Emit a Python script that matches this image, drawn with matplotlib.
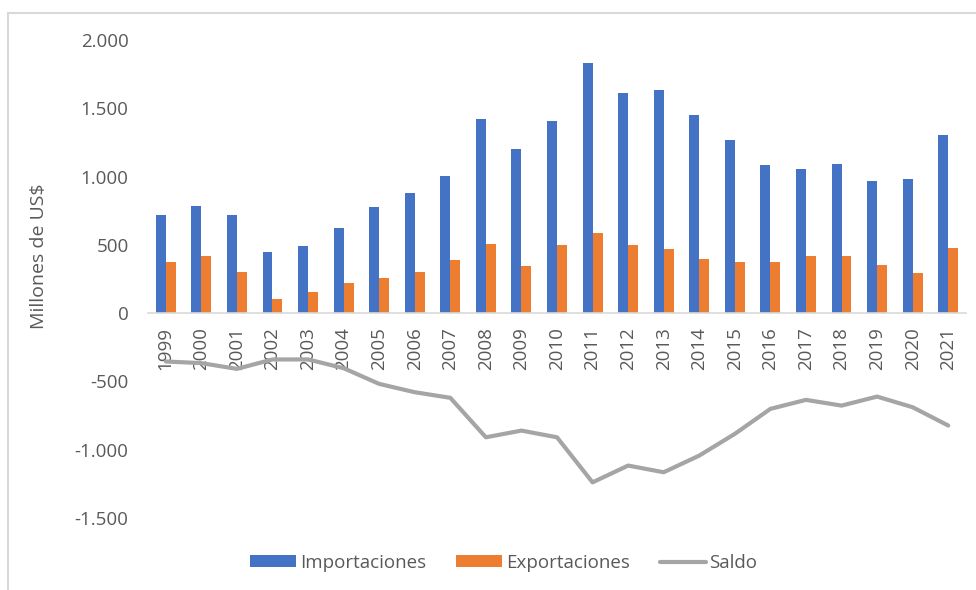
import numpy as np
import matplotlib.pyplot as plt
from matplotlib.ticker import FuncFormatter
from matplotlib.lines import Line2D

years = [str(y) for y in range(1999, 2022)]
importaciones = [721, 787, 716, 447, 491, 626, 780, 882, 1007, 1420, 1205, 1410,
                 1833, 1615, 1635, 1449, 1266, 1083, 1056, 1095, 968, 982, 1305]
exportaciones = [374, 416, 303, 105, 152, 223, 257, 298, 386, 504, 342, 501,
                 584, 498, 472, 399, 377, 374, 416, 416, 355, 296, 479]
saldo = [-354, -366, -408, -339, -339, -403, -518, -579, -620, -909, -860, -909,
         -1239, -1116, -1165, -1043, -884, -701, -635, -677, -611, -689, -823]

plt.rcParams['font.family'] = ['Open Sans', 'DejaVu Sans']
txt = '#595959'

fig = plt.figure(figsize=(9.76, 5.90), dpi=100)
W, H = 976, 590
ax = fig.add_axes([148 / W, 1 - 518 / H, (966 - 148) / W, (518 - 40) / H])

x = np.arange(len(years))
bw = 0.28
b1 = ax.bar(x - bw / 2, importaciones, bw, color='#4472C4', label='Importaciones', zorder=2)
b2 = ax.bar(x + bw / 2, exportaciones, bw, color='#ED7D31', label='Exportaciones', zorder=2)
l1, = ax.plot(x, saldo, color='#A5A5A5', lw=3.0, solid_capstyle='round',
              solid_joinstyle='round', label='Saldo', zorder=3)

ax.set_xlim(-0.5, len(years) - 0.5)
ax.set_ylim(-1500, 2000)
ax.set_yticks(np.arange(-1500, 2001, 500))
ax.yaxis.set_major_formatter(FuncFormatter(lambda v, p: f"{v:,.0f}".replace(",", ".")))

for s in ['top', 'right', 'left']:
    ax.spines[s].set_visible(False)
ax.spines['bottom'].set_position(('data', 0))
ax.spines['bottom'].set_color('#D9D9D9')
ax.spines['bottom'].set_linewidth(1.2)

ax.set_xticks(x)
ax.set_xticklabels(years, rotation=90, va='top')
ax.tick_params(axis='x', length=0, pad=10, labelsize=13.5, labelcolor=txt)
ax.tick_params(axis='y', length=0, pad=14, labelsize=13.5, labelcolor=txt)

ax.set_ylabel('Millones de US$', fontsize=14, color=txt)
ax.yaxis.set_label_coords(48 / W, 1 - 256 / H, transform=fig.transFigure)

fig.legend([b1, b2, l1], ['Importaciones', 'Exportaciones', 'Saldo'],
           loc='center', bbox_to_anchor=(504 / W, 1 - 563 / H), ncol=3, frameon=False,
           fontsize=13.5, labelcolor=txt, handlelength=2.45, handleheight=0.6,
           handletextpad=0.2, columnspacing=1.6)

# chart border (top and left only visible)
fig.add_artist(Line2D([7.5 / W, 1], [1 - 13 / H, 1 - 13 / H], transform=fig.transFigure,
                      color='#D9D9D9', lw=1.5))
fig.add_artist(Line2D([7.5 / W, 7.5 / W], [0, 1 - 13 / H], transform=fig.transFigure,
                      color='#D9D9D9', lw=1.5))

fig.savefig('out.png', dpi=100)
